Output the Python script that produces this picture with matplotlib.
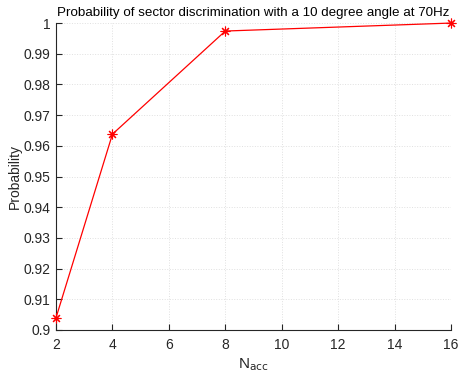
import matplotlib
matplotlib.use("Agg")
import matplotlib.pyplot as plt

n_acc = [2, 4, 8, 16]
prob = [0.904, 0.9638, 0.9974, 1.0]
y_ticks = [0.9, 0.91, 0.92, 0.93, 0.94, 0.95, 0.96, 0.97, 0.98, 0.99, 1.0]
y_labels = ["0.9", "0.91", "0.92", "0.93", "0.94", "0.95", "0.96", "0.97", "0.98", "0.99", "1"]
x_ticks = [2, 4, 6, 8, 10, 12, 14, 16]

plt.rcParams["font.family"] = ["Liberation Sans", "DejaVu Sans"]
plt.rcParams["font.size"] = 10

fig = plt.figure(figsize=(4.63, 3.78), dpi=100)
ax = fig.add_axes([0.121, 0.127, 0.853, 0.812])

# MATLAB-style asterisk marker
ax.plot(n_acc, prob, color="red", linewidth=0.9, marker=(8, 2, 0), markersize=7,
        markeredgewidth=0.8, clip_on=False, zorder=3)

ax.set_xlim(2, 16)
ax.set_ylim(0.9, 1.0)
ax.set_xticks(x_ticks)
ax.set_yticks(y_ticks)
ax.set_yticklabels(y_labels)

ax.grid(True, color="#e0e0e0", linestyle=":", linewidth=0.7)
ax.spines[["top", "right"]].set_visible(False)
for s in ["left", "bottom"]:
    ax.spines[s].set_color("#262626")
    ax.spines[s].set_linewidth(0.8)
ax.tick_params(direction="in", length=4, width=0.8, colors="#262626", labelsize=10)
ax.tick_params(axis="x", pad=6)
ax.tick_params(axis="y", pad=4)

ax.set_title("Probability of sector discrimination with a 10 degree angle at 70Hz",
             fontsize=9.6, pad=5)
ax.set_xlabel(r"N$_{\mathrm{acc}}$", fontsize=11, color="#262626", labelpad=3)
ax.set_ylabel("Probability", fontsize=10, color="#262626", labelpad=1)

fig.savefig("out.png", dpi=100)
plt.close(fig)
